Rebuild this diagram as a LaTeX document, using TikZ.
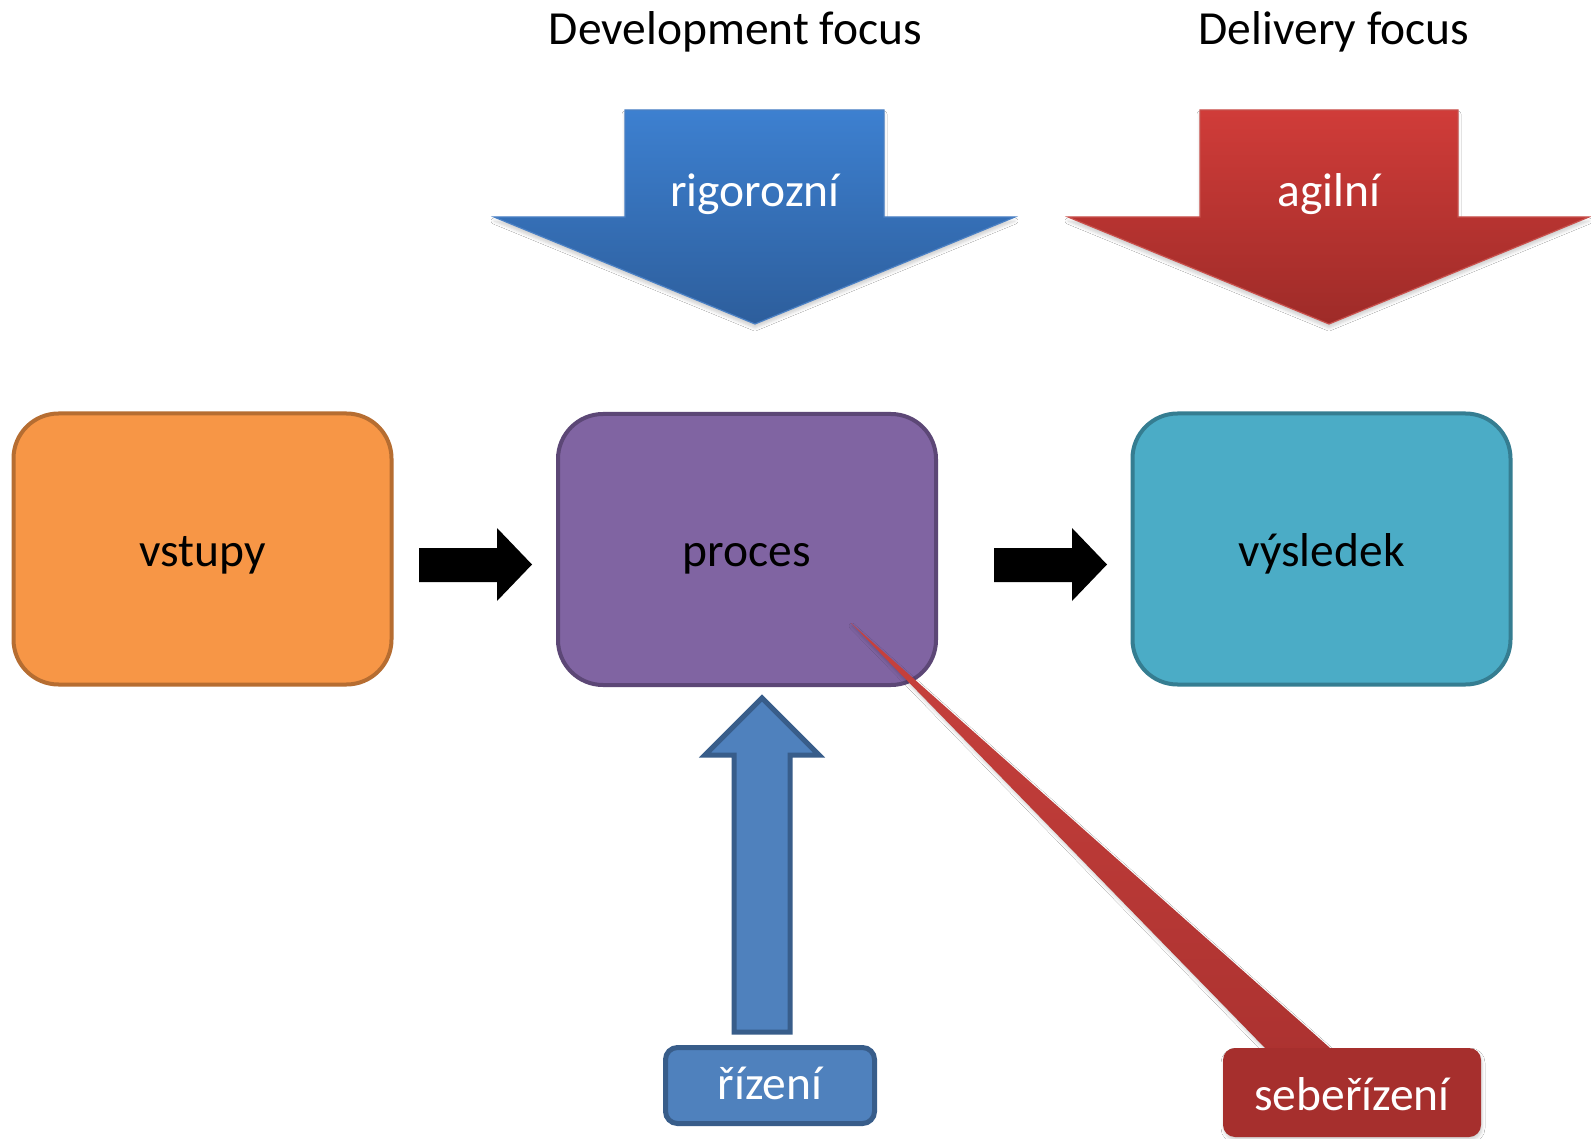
\documentclass[tikz,border=0pt]{standalone}
\usepackage{fontspec}
\setmainfont{Carlito}
\usetikzlibrary{shadows.blur}

\definecolor{orangefill}{HTML}{F79646}
\definecolor{orangeline}{HTML}{B66D31}
\definecolor{purplefill}{HTML}{8064A2}
\definecolor{purpleline}{HTML}{5C4776}
\definecolor{tealfill}{HTML}{4BACC6}
\definecolor{tealline}{HTML}{357D91}
\definecolor{bluefill}{HTML}{4F81BD}
\definecolor{blueline}{HTML}{385D8A}
\definecolor{bigbluetop}{HTML}{3D80D0}
\definecolor{bigbluebot}{HTML}{2D5E9C}
\definecolor{bigblueedge}{HTML}{4A80C4}
\definecolor{bigredtop}{HTML}{D03C39}
\definecolor{bigredbot}{HTML}{9E2B28}
\definecolor{bigrededge}{HTML}{C8504C}
\definecolor{wedgetop}{HTML}{C8413D}
\definecolor{wedgebot}{HTML}{AC3230}
\definecolor{calloutfill}{HTML}{A62F2D}

\begin{document}
\begin{tikzpicture}[x=1pt,y=-1pt,
  txt/.style={font=\fontsize{47.5}{57}\selectfont, inner sep=0pt},
  stagebox/.style={txt, rounded corners=45pt, line width=4pt,
    minimum width=378pt, minimum height=271pt, text height=34pt, text depth=0pt},
  bigarrow/.style={line width=1.2pt, line join=miter,
    blur shadow={shadow xshift=0pt, shadow yshift=-4pt, shadow blur radius=3pt, shadow opacity=18}},
  blockarrow/.style={fill=black},
  softshadow/.style={blur shadow={shadow xshift=1pt, shadow yshift=-3pt, shadow blur radius=3pt, shadow opacity=18}}
]
\useasboundingbox[fill=white] (0,0) rectangle (1591,1139);

% column headings
\node[txt, anchor=base] (devfocus) at (735.5,45) {Development focus};
\node[txt, anchor=base] (delfocus) at (1334,45) {Delivery focus};

% the three stages
\node[stagebox, fill=orangefill, draw=orangeline] (vstupy) at (202.5,549) {vstupy};
\node[stagebox, fill=purplefill, draw=purpleline] (proces) at (747,549.5) {proces};
\node[stagebox, fill=tealfill, draw=tealline] (vysledek) at (1321.5,549) {výsledek};

% black block arrows between the stages
\fill[blockarrow] (419,548) -- (497,548) -- (497,528) -- (532,564.5)
  -- (497,601) -- (497,582) -- (419,582) -- cycle;
\fill[blockarrow] (994,548) -- (1072,548) -- (1072,528) -- (1107,564.5)
  -- (1072,601) -- (1072,582) -- (994,582) -- cycle;

% wide down arrows above the stages
\path[bigarrow, draw=bigblueedge, top color=bigbluetop, bottom color=bigbluebot]
  (625,110) -- (884,110) -- (884,217) -- (1015,217) -- (755,324)
  -- (494,217) -- (625,217) -- cycle;
\node[txt, anchor=base, text=white] (rigor) at (755,207) {rigorozní};

\path[bigarrow, draw=bigrededge, top color=bigredtop, bottom color=bigredbot]
  (1200,110) -- (1458,110) -- (1458,217) -- (1589,217) -- (1329,324)
  -- (1068,217) -- (1200,217) -- cycle;
\node[txt, anchor=base, text=white] (agil) at (1329,207) {agilní};

% control arrow from below
\draw[fill=bluefill, draw=blueline, line width=5pt, line join=miter]
  (762,698) -- (819,755) -- (790,755) -- (790,1032) -- (734,1032)
  -- (734,755) -- (705,755) -- cycle;
\node[txt, rounded corners=12pt, fill=bluefill, draw=blueline, line width=5pt,
  minimum width=209pt, minimum height=76pt, text height=27pt, text depth=0pt,
  text=white] (rizeni) at (770,1085.5) {řízení};

% self-management callout
\path[softshadow, top color=wedgetop, bottom color=wedgebot]
  (851,623) -- (1265,1048) -- (1277,1060) -- (1342,1060) -- (1330,1048) -- cycle;
\node[txt, rounded corners=12pt, fill=calloutfill, softshadow,
  minimum width=258pt, minimum height=89pt, text height=35pt, text depth=0pt,
  text=white] (seb) at (1352,1092.5) {sebeřízení};
\end{tikzpicture}
\end{document}
